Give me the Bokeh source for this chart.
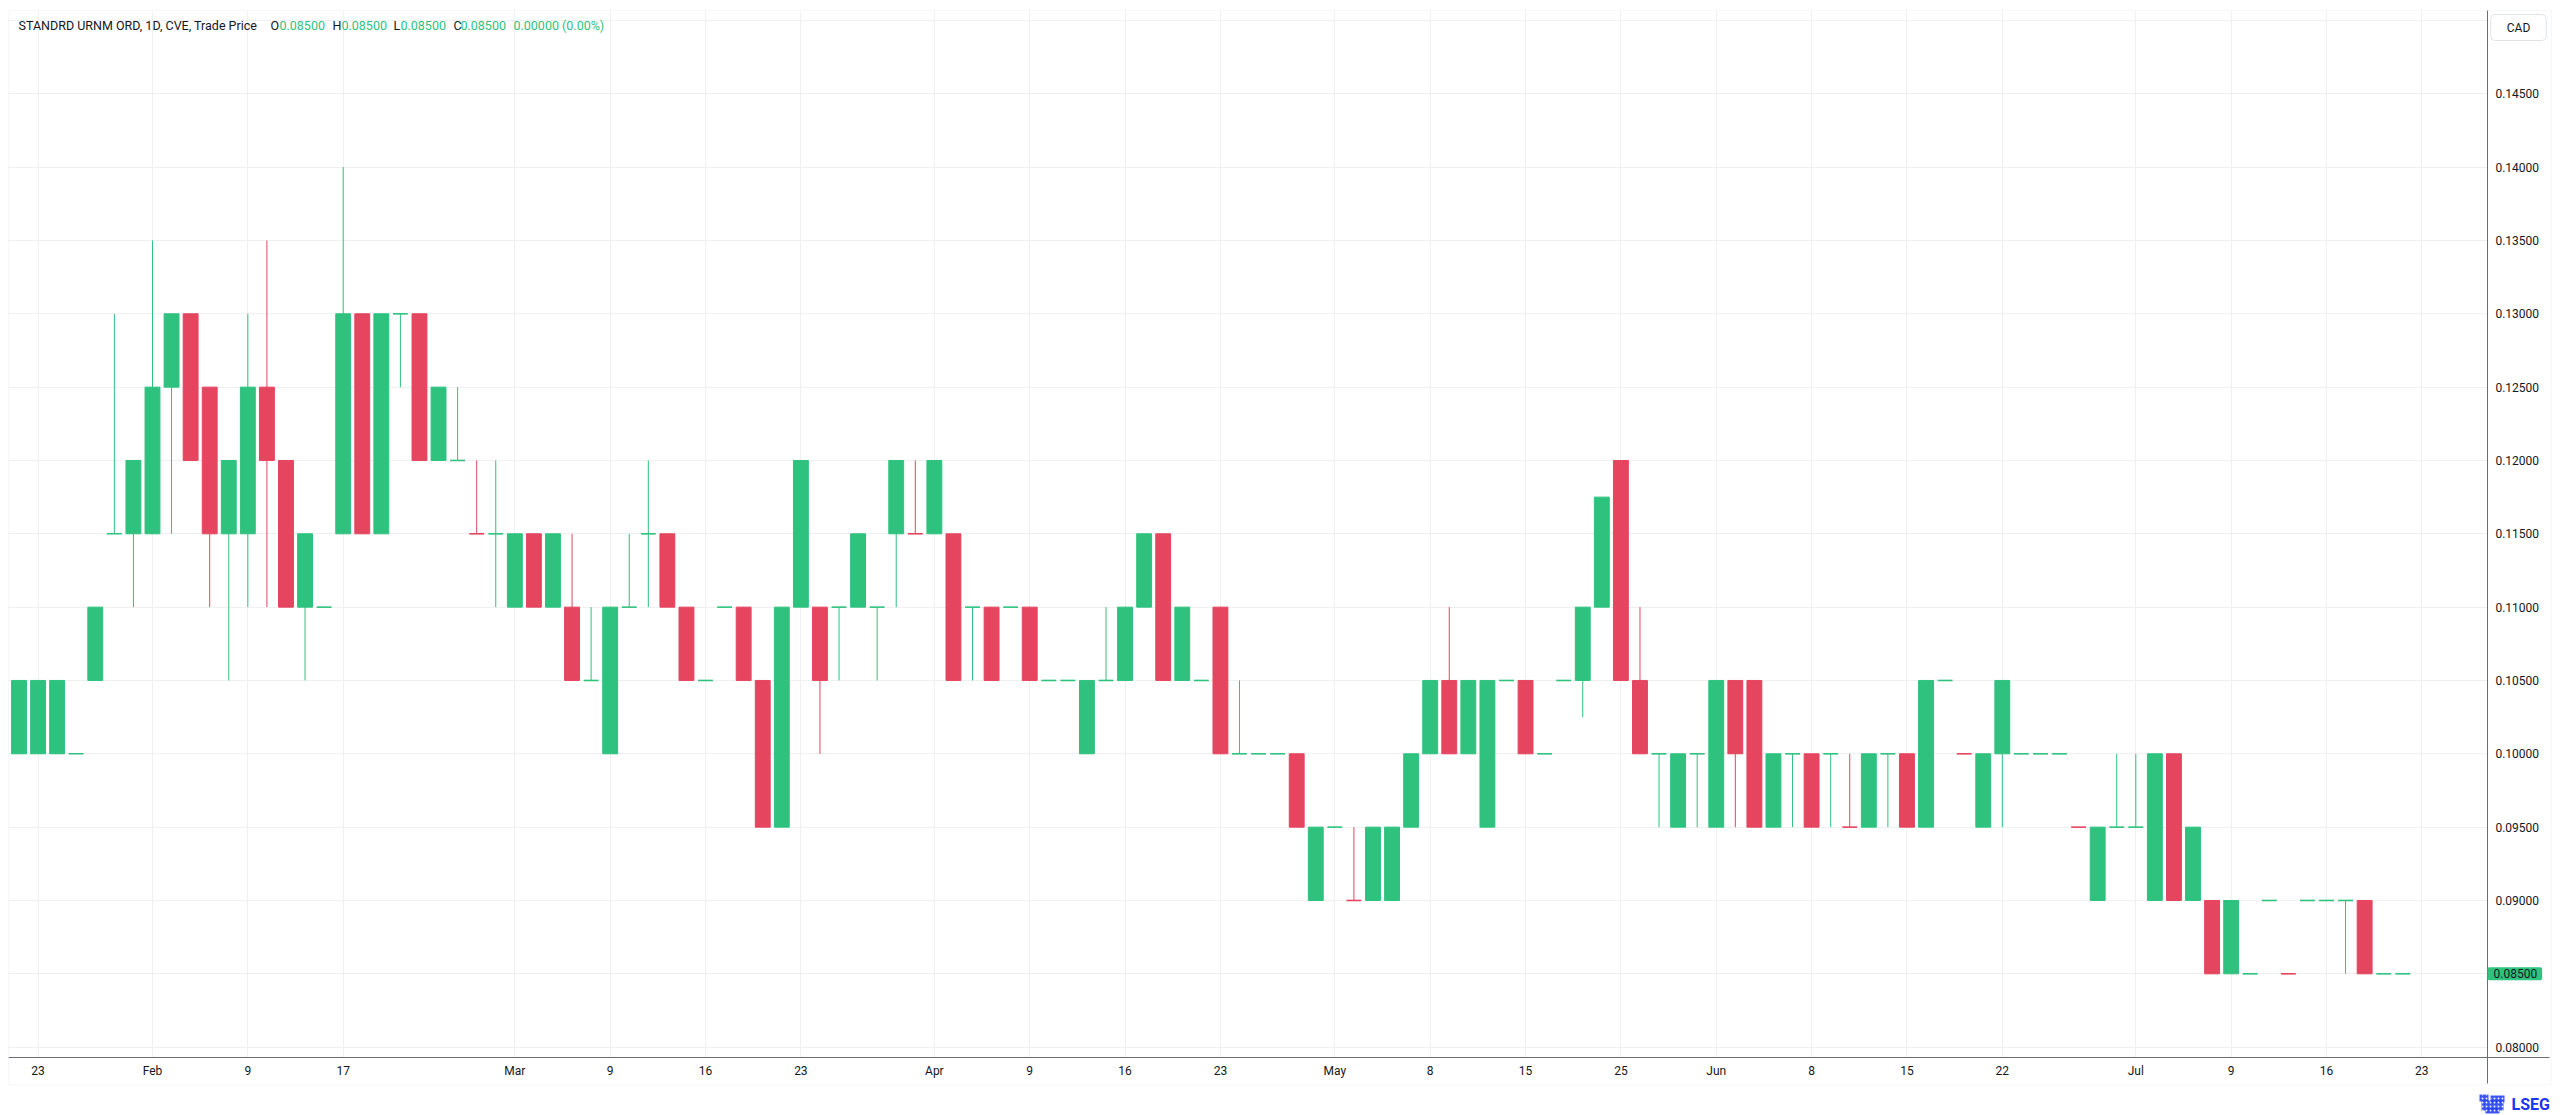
from bokeh.plotting import figure
from bokeh.models import (Range1d, FixedTicker, NumeralTickFormatter, Label,
                          ColumnDataSource, BoxAnnotation)
from bokeh.embed import file_html
from bokeh.resources import INLINE

# ---------------- data ----------------
opens = [0.100, 0.100, 0.100, 0.100, 0.105, 0.115, 0.115, 0.115, 0.125, 0.130,
         0.125, 0.115, 0.115, 0.125, 0.120, 0.110, 0.110, 0.115, 0.130, 0.115,
         0.130, 0.130, 0.120, 0.120, 0.115, 0.115, 0.110, 0.115, 0.110, 0.110,
         0.105, 0.100, 0.110, 0.115, 0.115, 0.110, 0.105, 0.110, 0.110, 0.105,
         0.095, 0.110, 0.110, 0.110, 0.110, 0.110, 0.115, 0.115, 0.115, 0.115,
         0.110, 0.110, 0.110, 0.110, 0.105, 0.105, 0.100, 0.105, 0.105, 0.110,
         0.115, 0.105, 0.105, 0.110, 0.100, 0.100, 0.100, 0.100, 0.090, 0.095,
         0.090, 0.090, 0.090, 0.095, 0.100, 0.105, 0.100, 0.095, 0.105, 0.105,
         0.100, 0.105, 0.105, 0.110, 0.120, 0.105, 0.100, 0.095, 0.100, 0.095,
         0.105, 0.105, 0.095, 0.100, 0.100, 0.100, 0.095, 0.095, 0.100, 0.100,
         0.095, 0.105, 0.100, 0.095, 0.100, 0.100, 0.100, 0.100, 0.095, 0.090,
         0.095, 0.095, 0.090, 0.100, 0.090, 0.090, 0.085, 0.085, 0.090, 0.085,
         0.090, 0.090, 0.090, 0.090, 0.085, 0.085]
highs = [0.105, 0.105, 0.105, 0.100, 0.110, 0.130, 0.120, 0.135, 0.130, 0.130,
         0.125, 0.120, 0.130, 0.135, 0.120, 0.115, 0.110, 0.140, 0.130, 0.130,
         0.130, 0.130, 0.125, 0.125, 0.120, 0.120, 0.115, 0.115, 0.115, 0.115,
         0.110, 0.110, 0.115, 0.120, 0.115, 0.110, 0.105, 0.110, 0.110, 0.105,
         0.110, 0.120, 0.110, 0.110, 0.115, 0.110, 0.120, 0.120, 0.120, 0.115,
         0.110, 0.110, 0.110, 0.110, 0.105, 0.105, 0.105, 0.110, 0.110, 0.115,
         0.115, 0.110, 0.105, 0.110, 0.105, 0.100, 0.100, 0.100, 0.095, 0.095,
         0.095, 0.095, 0.095, 0.100, 0.105, 0.110, 0.105, 0.105, 0.105, 0.105,
         0.100, 0.105, 0.110, 0.1175, 0.120, 0.110, 0.100, 0.100, 0.100, 0.105,
         0.105, 0.105, 0.100, 0.100, 0.100, 0.100, 0.100, 0.100, 0.100, 0.100,
         0.105, 0.105, 0.100, 0.100, 0.105, 0.100, 0.100, 0.100, 0.095, 0.095,
         0.100, 0.100, 0.100, 0.100, 0.095, 0.090, 0.090, 0.085, 0.090, 0.085,
         0.090, 0.090, 0.090, 0.090, 0.085, 0.085]
lows = [0.100, 0.100, 0.100, 0.100, 0.105, 0.115, 0.110, 0.115, 0.115, 0.120,
        0.110, 0.105, 0.110, 0.110, 0.110, 0.105, 0.110, 0.115, 0.115, 0.115,
        0.125, 0.120, 0.120, 0.120, 0.115, 0.110, 0.110, 0.110, 0.110, 0.105,
        0.105, 0.100, 0.110, 0.110, 0.110, 0.105, 0.105, 0.110, 0.105, 0.095,
        0.095, 0.110, 0.100, 0.105, 0.110, 0.105, 0.110, 0.115, 0.115, 0.105,
        0.105, 0.105, 0.110, 0.105, 0.105, 0.105, 0.100, 0.105, 0.105, 0.110,
        0.105, 0.105, 0.105, 0.100, 0.100, 0.100, 0.100, 0.095, 0.090, 0.095,
        0.090, 0.090, 0.090, 0.095, 0.100, 0.100, 0.100, 0.095, 0.105, 0.100,
        0.100, 0.105, 0.1025, 0.110, 0.105, 0.100, 0.095, 0.095, 0.095, 0.095,
        0.095, 0.095, 0.095, 0.095, 0.095, 0.095, 0.095, 0.095, 0.095, 0.095,
        0.095, 0.105, 0.100, 0.095, 0.095, 0.100, 0.100, 0.100, 0.095, 0.090,
        0.095, 0.095, 0.090, 0.090, 0.090, 0.085, 0.085, 0.085, 0.090, 0.085,
        0.090, 0.090, 0.085, 0.085, 0.085, 0.085]
closes = [0.105, 0.105, 0.105, 0.100, 0.110, 0.115, 0.120, 0.125, 0.130, 0.120,
          0.115, 0.120, 0.125, 0.120, 0.110, 0.115, 0.110, 0.130, 0.115, 0.130,
          0.130, 0.120, 0.125, 0.120, 0.115, 0.115, 0.115, 0.110, 0.115, 0.105,
          0.105, 0.110, 0.110, 0.115, 0.110, 0.105, 0.105, 0.110, 0.105, 0.095,
          0.110, 0.120, 0.105, 0.110, 0.115, 0.110, 0.120, 0.115, 0.120, 0.105,
          0.110, 0.105, 0.110, 0.105, 0.105, 0.105, 0.105, 0.105, 0.110, 0.115,
          0.105, 0.110, 0.105, 0.100, 0.100, 0.100, 0.100, 0.095, 0.095, 0.095,
          0.090, 0.095, 0.095, 0.100, 0.105, 0.100, 0.105, 0.105, 0.105, 0.100,
          0.100, 0.105, 0.110, 0.1175, 0.105, 0.100, 0.100, 0.100, 0.100, 0.105,
          0.100, 0.095, 0.100, 0.100, 0.095, 0.100, 0.095, 0.100, 0.100, 0.095,
          0.105, 0.105, 0.100, 0.100, 0.105, 0.100, 0.100, 0.100, 0.095, 0.095,
          0.095, 0.095, 0.100, 0.090, 0.095, 0.085, 0.090, 0.085, 0.090, 0.085,
          0.090, 0.090, 0.090, 0.085, 0.085, 0.085]
# unchanged-price sessions that are drawn in the "down" colour
red_doji = [24, 47, 70, 96, 102, 108, 119]

# time axis: trading-day index of each labelled date, and the labels
tick_index = [1, 7, 12, 17, 26, 31, 36, 41, 48, 53, 58, 63, 69, 74, 79, 84,
              89, 94, 99, 104, 111, 116, 121, 126]
tick_labels = ["23", "Feb", "9", "17", "Mar", "9", "16", "23", "Apr", "9", "16",
               "23", "May", "8", "15", "25", "Jun", "8", "15", "22", "Jul", "9",
               "16", "23"]
price_ticks = [0.080, 0.085, 0.090, 0.095, 0.100, 0.105, 0.110, 0.115, 0.120,
               0.125, 0.130, 0.135, 0.140, 0.145]
grid_prices = price_ticks + [0.150]

last_price = "0.08500"
title_parts = [("STANDRD URNM ORD, 1D, CVE, Trade Price", "dark"),
               ("O", "dark"), ("0.08500", "green"),
               ("H", "dark"), ("0.08500", "green"),
               ("L", "dark"), ("0.08500", "green"),
               ("C", "dark"), ("0.08500", "green"),
               ("0.00000 (0.00%)", "green")]

# ---------------- style / layout ----------------
UP = "#2EC27E"
DOWN = "#E5455F"
DARK = "#131722"
GRID = "#f0f0f0"
BORDER = "#e0e3eb"
LOGO = "#1a35f5"
FONT = "Roboto"

W, H = 2560, 1115
# visible ranges (the frame covers the whole canvas)
X0, X1 = -0.970, 133.27
Y0, Y1 = 0.075339, 0.151361
AXIS_X = 129.44        # position of the price scale line
AXIS_Y = 0.079293      # position of the time scale line
BOX_L, BOX_R = -0.551, 132.80
BOX_B, BOX_T = 0.077453, 0.150680

n = len(opens)
xs = list(range(n))
colors = []
for i in range(n):
    if closes[i] > opens[i]:
        colors.append(UP)
    elif closes[i] < opens[i]:
        colors.append(DOWN)
    else:
        colors.append(DOWN if i in red_doji else UP)

wick_src = ColumnDataSource(dict(x=xs, lo=lows, hi=highs, c=colors))
body_idx = [i for i in range(n) if opens[i] != closes[i]]
doji_idx = [i for i in range(n) if opens[i] == closes[i]]
body_src = ColumnDataSource(dict(
    x=body_idx,
    top=[max(opens[i], closes[i]) for i in body_idx],
    bottom=[min(opens[i], closes[i]) for i in body_idx],
    c=[colors[i] for i in body_idx]))
doji_src = ColumnDataSource(dict(
    x0=[i - 0.39 for i in doji_idx], x1=[i + 0.39 for i in doji_idx],
    y=[opens[i] for i in doji_idx], c=[colors[i] for i in doji_idx]))

p = figure(width=W, height=H, output_backend="svg", toolbar_location=None,
           x_range=Range1d(X0, X1), y_range=Range1d(Y0, Y1),
           y_axis_location="right", min_border=0)
p.background_fill_color = "white"
p.border_fill_color = "white"
p.outline_line_color = None

p.xgrid.ticker = FixedTicker(ticks=tick_index)
p.ygrid.ticker = FixedTicker(ticks=grid_prices)
p.xgrid.grid_line_color = GRID
p.ygrid.grid_line_color = GRID

# keep the grid inside the chart pane (white masks over the scale areas)
for l, r, b, t in [(AXIS_X, X1, Y0, Y1), (X0, X1, Y0, AXIS_Y),
                   (X0, X1, BOX_T, Y1), (X0, BOX_L, Y0, Y1)]:
    p.add_layout(BoxAnnotation(left=l, right=r, bottom=b, top=t,
                               fill_color="white", fill_alpha=1.0,
                               line_color=None, level="underlay"))

p.segment(x0="x", x1="x", y0="lo", y1="hi", line_color="c", line_width=1,
          source=wick_src)
p.vbar(x="x", width=0.78, top="top", bottom="bottom", fill_color="c",
       line_color="c", line_width=1, source=body_src)
p.segment(x0="x0", x1="x1", y0="y", y1="y", line_color="c", line_width=1.6,
          source=doji_src)

# axes, pinned inside the canvas
xa = p.xaxis[0]
xa.ticker = FixedTicker(ticks=tick_index)
xa.major_label_overrides = {t: l for t, l in zip(tick_index, tick_labels)}
xa.fixed_location = AXIS_Y
xa.bounds = (BOX_L, 132.70)
ya = p.yaxis[0]
ya.ticker = FixedTicker(ticks=price_ticks)
ya.formatter = NumeralTickFormatter(format="0.00000")
ya.fixed_location = AXIS_X
ya.bounds = (0.077521, BOX_T)
for ax in (xa, ya):
    ax.major_tick_line_color = None
    ax.minor_tick_line_color = None
    ax.major_tick_out = 0
    ax.major_tick_in = 0
    ax.axis_line_color = "#6a6d78"
    ax.major_label_text_font = FONT
    ax.major_label_text_font_size = "12px"
    ax.major_label_text_color = DARK
xa.major_label_standoff = 6
ya.major_label_standoff = 8

# chart border
p.add_layout(BoxAnnotation(left=BOX_L, right=BOX_R, bottom=BOX_B, top=BOX_T,
                           fill_alpha=0, line_color=BORDER, line_width=1))

# legend line in the top-left corner
title_x = [18, 270, 279, 332, 341, 393, 400, 453, 460, 513]
for (txt, kind), tx in zip(title_parts, title_x):
    p.add_layout(Label(x=tx, y=H - 25, x_units="screen", y_units="screen",
                       text=txt, text_font=FONT, text_font_size="12.5px",
                       text_color=(UP if kind == "green" else DARK),
                       text_baseline="middle", text_align="left"))

# currency box above the price scale
p.add_layout(Label(x=2518, y=H - 27, x_units="screen", y_units="screen",
                   text="CAD", text_font=FONT, text_font_size="12px",
                   text_color=DARK, text_align="center", text_baseline="middle",
                   background_fill_color="white", border_line_color=BORDER,
                   border_radius=4,
                   padding=dict(left=16, right=16, top=6, bottom=6)))

# last price marker on the price scale
p.add_layout(Label(x=2487, y=closes[-1], x_units="screen", y_units="data",
                   text=last_price, text_font=FONT, text_font_size="12px",
                   text_color=DARK, text_align="left", text_baseline="middle",
                   background_fill_color=UP, border_radius=2,
                   padding=dict(left=6, right=5, top=2, bottom=2)))

# data vendor mark: small speckled emblem + wordmark
for l, r, top_y, bot_y in [(2479, 2488, 1094, 1101), (2490, 2504, 1095, 1102),
                           (2481, 2503, 1100, 1110), (2485, 2499, 1108, 1113)]:
    p.add_layout(BoxAnnotation(left=l, right=r, top=H - top_y, bottom=H - bot_y,
                               left_units="screen", right_units="screen",
                               top_units="screen", bottom_units="screen",
                               fill_color=LOGO, fill_alpha=0.85, line_color=None,
                               hatch_pattern="dot", hatch_color="white",
                               hatch_scale=4, hatch_alpha=0.9))
p.add_layout(Label(x=2511, y=H - 1104, x_units="screen", y_units="screen",
                   text="LSEG", text_font=FONT, text_font_size="16px",
                   text_font_style="bold", text_color=LOGO,
                   text_align="left", text_baseline="middle"))

open("out.html", "w").write(file_html(p, INLINE))
